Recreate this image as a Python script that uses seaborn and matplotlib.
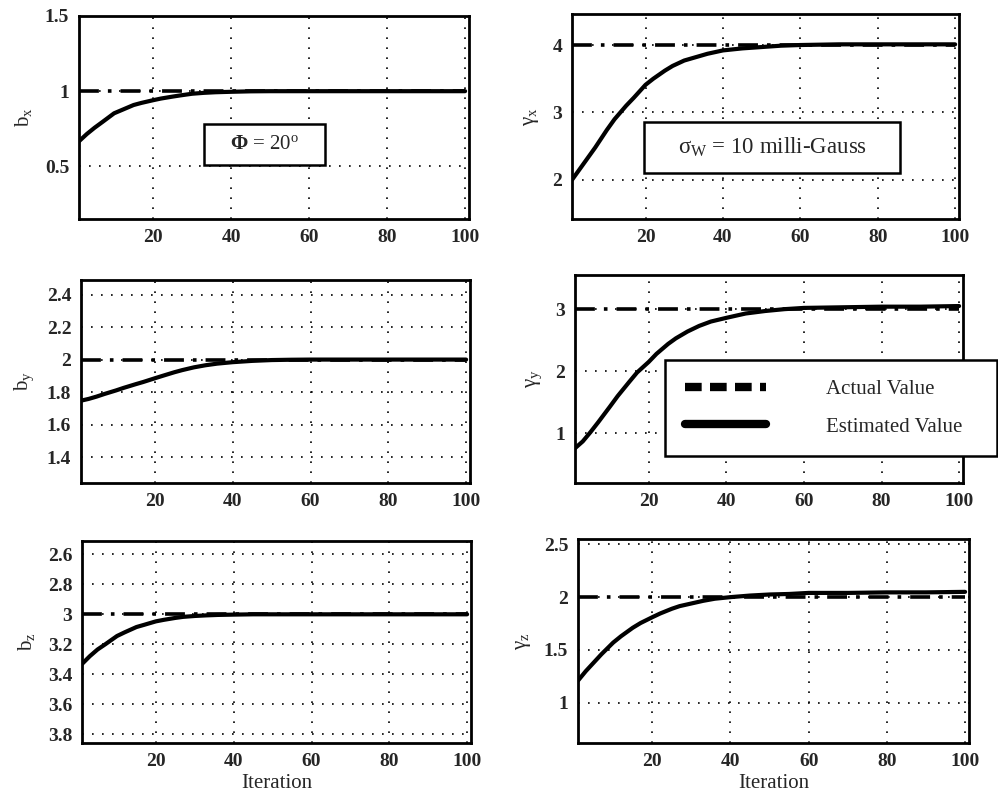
import numpy as np
import pandas as pd
import matplotlib
matplotlib.use("Agg")
import matplotlib.pyplot as plt
from matplotlib.lines import Line2D
from matplotlib.patches import Rectangle
import seaborn as sns

# ---------------- data ----------------
iter_pts = [1, 3, 5, 7, 10, 12, 15, 17, 20, 22, 25, 27, 30, 33, 36, 40, 45, 50, 55, 60, 70, 80, 90, 100]

bx_est = [0.667, 0.715, 0.757, 0.795, 0.853, 0.875, 0.908, 0.922, 0.94, 0.951, 0.964, 0.972, 0.983,
          0.989, 0.993, 0.996, 0.999, 1.0, 1.0, 1.0, 1.0, 1.0, 1.0, 1.0]
gx_est = [2.0, 2.16, 2.32, 2.48, 2.74, 2.9, 3.1, 3.22, 3.41, 3.5, 3.62, 3.69, 3.77,
          3.82, 3.87, 3.92, 3.95, 3.97, 3.99, 4.0, 4.01, 4.01, 4.01, 4.01]
by_est = [1.747, 1.758, 1.772, 1.788, 1.81, 1.826, 1.848, 1.862, 1.885, 1.9, 1.922, 1.935, 1.952,
          1.965, 1.975, 1.984, 1.992, 1.997, 1.999, 2.0, 2.0, 2.0, 2.0, 2.0]
gy_est = [0.76, 0.87, 1.02, 1.18, 1.43, 1.6, 1.83, 1.98, 2.15, 2.28, 2.44, 2.53, 2.64,
          2.73, 2.8, 2.86, 2.93, 2.97, 3.0, 3.02, 3.03, 3.04, 3.04, 3.05]
bz_est = [3.332, 3.28, 3.235, 3.2, 3.145, 3.12, 3.085, 3.07, 3.047, 3.037, 3.024, 3.017, 3.011,
          3.007, 3.004, 3.002, 3.0, 3.0, 3.0, 3.0, 3.0, 3.0, 3.0, 3.0]
gz_est = [1.21, 1.3, 1.38, 1.46, 1.57, 1.63, 1.71, 1.755, 1.81, 1.845, 1.89, 1.915, 1.94,
          1.965, 1.985, 2.0, 2.015, 2.025, 2.03, 2.04, 2.04, 2.045, 2.045, 2.05]

actual_x = [1, 100]
bx_act, gx_act, by_act, gy_act, bz_act, gz_act = 1.0, 4.0, 2.0, 3.0, 3.0, 2.0

x_ticks = [20, 40, 60, 80, 100]
bx_ticks = [0.5, 1, 1.5]
gx_ticks = [2, 3, 4]
by_ticks = [1.4, 1.6, 1.8, 2.0, 2.2, 2.4]
gy_ticks = [1, 2, 3]
bz_ticks = [2.6, 2.8, 3.0, 3.2, 3.4, 3.6, 3.8]
gz_ticks = [1, 1.5, 2, 2.5]

legend_labels = ["Actual Value", "Estimated Value"]

# ---------------- style ----------------
sns.set_style("white")
plt.rcParams["font.family"] = ["Liberation Serif", "DejaVu Serif"]
plt.rcParams["mathtext.fontset"] = "custom"
plt.rcParams["mathtext.rm"] = "Liberation Serif"
plt.rcParams["mathtext.it"] = "Liberation Serif:italic"
plt.rcParams["mathtext.bf"] = "Liberation Serif:bold"

fig = plt.figure(figsize=(9.98, 8.0), dpi=100)

W, H = 998.0, 800.0
def pos(l, r, t, b):
    return [l / W, 1 - b / H, (r - l) / W, (b - t) / H]

panels = [
    dict(rect=pos(79, 469, 16, 219), est=bx_est, act=bx_act, ylim=(0.15, 1.5), ticks=bx_ticks,
         labels=["0.5", "1", "1.5"], ylabel=r"b$_\mathrm{x}$"),
    dict(rect=pos(572, 959, 14, 219), est=gx_est, act=gx_act, ylim=(1.42, 4.46), ticks=gx_ticks,
         labels=["2", "3", "4"], ylabel=r"$\mathrm{\gamma_x}$"),
    dict(rect=pos(81, 470, 280, 483), est=by_est, act=by_act, ylim=(1.24, 2.49), ticks=by_ticks,
         labels=["1.4", "1.6", "1.8", "2", "2.2", "2.4"], ylabel=r"b$_\mathrm{y}$"),
    dict(rect=pos(575, 963, 275, 483), est=gy_est, act=gy_act, ylim=(0.2, 3.55), ticks=gy_ticks,
         labels=["1", "2", "3"], ylabel=r"$\mathrm{\gamma_y}$"),
    dict(rect=pos(82, 471, 541, 743), est=bz_est, act=bz_act, ylim=(3.86, 2.51), ticks=bz_ticks,
         labels=["2.6", "2.8", "3", "3.2", "3.4", "3.6", "3.8"], ylabel=r"b$_\mathrm{z}$"),
    dict(rect=pos(578, 969, 539, 743), est=gz_est, act=gz_act, ylim=(0.62, 2.55), ticks=gz_ticks,
         labels=["1", "1.5", "2", "2.5"], ylabel=r"$\mathrm{\gamma_z}$"),
]

axes = []
for i, p in enumerate(panels):
    ax = fig.add_axes(p["rect"])
    df_est = pd.DataFrame({"it": iter_pts, "v": p["est"]})
    df_act = pd.DataFrame({"it": actual_x, "v": [p["act"]] * len(actual_x)})
    sns.lineplot(data=df_act, x="it", y="v", ax=ax, color="black", lw=2.6,
                 linestyle=(0, (5.5, 2.5, 1, 2.5)), zorder=3)
    sns.lineplot(data=df_est, x="it", y="v", ax=ax, color="black", lw=3.0, zorder=4)
    ax.set_xlim(1, 101)
    ax.set_ylim(*p["ylim"])
    ax.set_xticks(x_ticks)
    ax.set_xticklabels([str(t) for t in x_ticks])
    ax.set_yticks(p["ticks"])
    ax.set_yticklabels(p["labels"])
    ax.grid(True, linestyle=(0, (1, 5)), color="black", linewidth=1.2)
    ax.tick_params(axis="both", length=0, labelsize=14, pad=7)
    for lab in ax.get_xticklabels() + ax.get_yticklabels():
        lab.set_fontweight("bold")
    for s in ax.spines.values():
        s.set_linewidth(2.0)
        s.set_color("black")
    ax.set_ylabel(p["ylabel"], fontsize=15, labelpad=8)
    ax.set_xlabel("Iteration" if i >= 4 else "", fontsize=15, labelpad=3)
    axes.append(ax)

# annotation boxes
def boxed_text(ax, x0, x1, y0, y1, txt, fs):
    ax.add_patch(Rectangle((x0, y0), x1 - x0, y1 - y0, transform=ax.transAxes,
                           facecolor="white", edgecolor="black", linewidth=1.8, zorder=10))
    ax.text((x0 + x1) / 2, (y0 + y1) / 2, txt, transform=ax.transAxes,
            ha="center", va="center", fontsize=fs, zorder=11)

boxed_text(axes[0], 0.3205, 0.631, 0.266, 0.468, r"$\mathbf{\Phi}$ = 20$^\mathrm{o}$", 15)
boxed_text(axes[1], 0.186, 0.848, 0.224, 0.473, r"$\mathrm{\sigma_W}$ = 10 milli-Gauss", 16.5)

# legend
handles = [Line2D([0], [0], color="black", lw=6, linestyle=(0, (2.0, 1.0))),
           Line2D([0], [0], color="black", lw=6, linestyle="-")]
leg = fig.legend(handles, legend_labels,
                 loc="upper left", bbox_to_anchor=(665 / W, 1 - 455 / H, 332 / W, 95 / H),
                 mode="expand", fontsize=15, frameon=True, fancybox=False, handlelength=3.9,
                 handletextpad=2.9, borderpad=0.95, labelspacing=0.85, borderaxespad=0)
leg.get_frame().set_edgecolor("black")
leg.get_frame().set_linewidth(1.8)
leg.get_frame().set_facecolor("white")
leg.get_frame().set_alpha(1.0)
leg.set_zorder(20)

fig.savefig("out.png", dpi=100)
